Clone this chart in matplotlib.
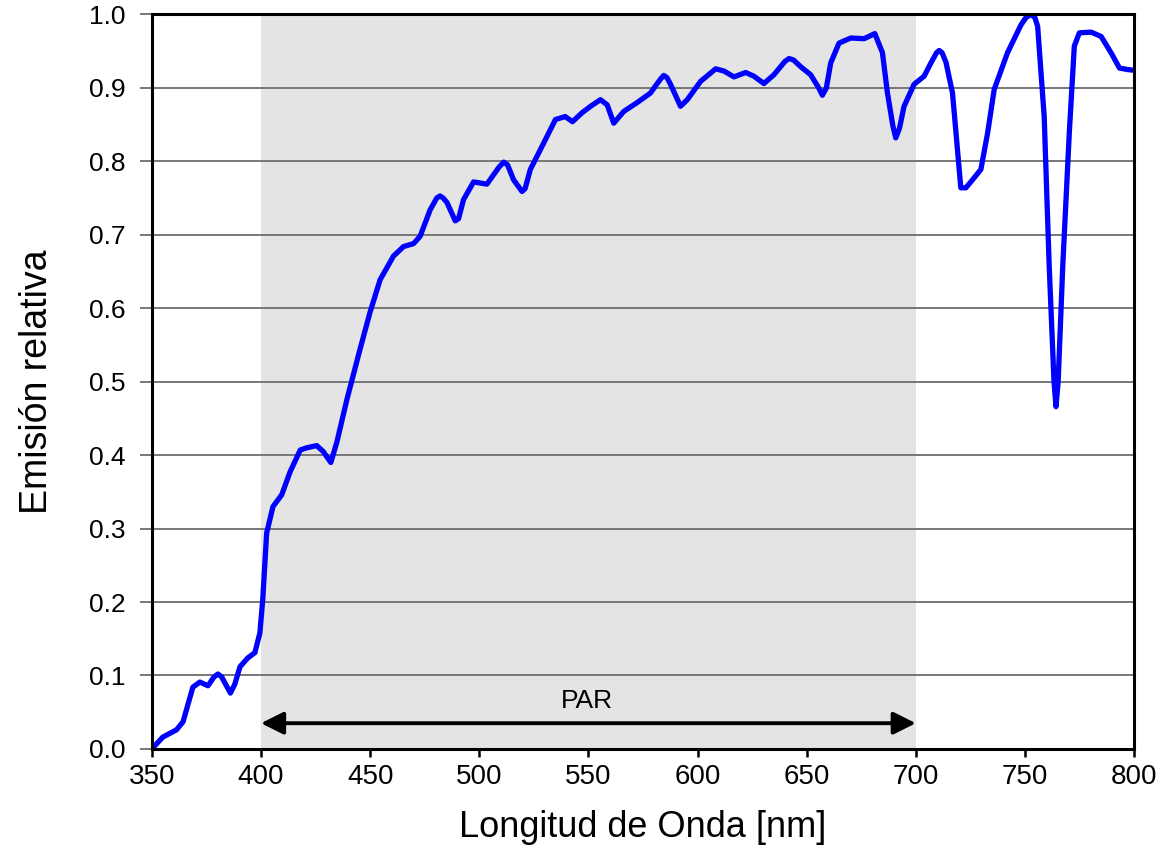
import matplotlib.pyplot as plt

plt.rcParams['font.family'] = ['Liberation Sans', 'DejaVu Sans']

# Spectrum
wavelength = [350, 355, 361.3, 364.3, 366.5, 368.8, 372, 375.7, 378.5, 380.3, 382, 386, 388,
              390.4, 394, 397.2, 399.5, 400.8, 402.6, 405.5, 409.5, 413.3, 418, 421, 425.5,
              428.5, 432, 434.7, 439.3, 445, 450, 454.6, 460.7, 465.3, 469.9, 472.9, 477.5,
              480.5, 482, 483.5, 485.2, 489, 490.5, 492.8, 497.4, 503.5, 509, 511.2, 513,
              515.7, 519.6, 521, 523.4, 528, 534.9, 539.4, 542.7, 547, 551, 555.5, 558.6,
              561.6, 566.2, 572.3, 578.4, 583, 584.5, 586, 587.6, 592.2, 595.3, 601.4,
              608.3, 612.1, 616.7, 622, 625.8, 630.4, 635, 640, 641.9, 644, 647.2, 651.8,
              655.5, 657.2, 659, 661, 664.8, 670.2, 676.3, 681.2, 684.7, 687, 689.5, 690.8,
              692.5, 694.6, 699.2, 703.8, 706.9, 709.5, 710.7, 712, 713.8, 716.8, 720.6,
              722.9, 726, 729.8, 732.9, 735.9, 742, 748.2, 750.5, 752.8, 754.5, 755.8,
              758.8, 761.1, 763.3, 764.2, 765.2, 767.3, 770.3, 772.6, 774.9, 780.3, 784.9,
              789.4, 793.3, 797.1, 800]
emission = [0.0, 0.016, 0.026, 0.037, 0.06, 0.084, 0.091, 0.086, 0.098, 0.102, 0.098, 0.076,
            0.088, 0.112, 0.124, 0.131, 0.158, 0.203, 0.294, 0.33, 0.346, 0.377, 0.407, 0.41,
            0.413, 0.405, 0.39, 0.417, 0.475, 0.54, 0.595, 0.639, 0.671, 0.684, 0.688, 0.698,
            0.734, 0.75, 0.753, 0.75, 0.744, 0.719, 0.722, 0.748, 0.772, 0.769, 0.792, 0.799,
            0.795, 0.775, 0.759, 0.763, 0.789, 0.816, 0.857, 0.861, 0.854, 0.866, 0.875,
            0.884, 0.877, 0.852, 0.868, 0.88, 0.893, 0.912, 0.917, 0.914, 0.905, 0.875,
            0.884, 0.909, 0.926, 0.923, 0.915, 0.921, 0.916, 0.906, 0.918, 0.936, 0.94,
            0.938, 0.929, 0.918, 0.9, 0.89, 0.9, 0.934, 0.961, 0.968, 0.967, 0.974, 0.948,
            0.893, 0.848, 0.832, 0.845, 0.875, 0.905, 0.916, 0.934, 0.948, 0.951, 0.948,
            0.935, 0.893, 0.764, 0.764, 0.775, 0.789, 0.839, 0.898, 0.948, 0.986, 0.996,
            1.0, 0.996, 0.984, 0.861, 0.657, 0.5, 0.466, 0.5, 0.657, 0.839, 0.957, 0.975,
            0.976, 0.97, 0.948, 0.927, 0.925, 0.924]

par_range = [400, 700]
x_ticks = [350, 400, 450, 500, 550, 600, 650, 700, 750, 800]
y_ticks = [0.0, 0.1, 0.2, 0.3, 0.4, 0.5, 0.6, 0.7, 0.8, 0.9, 1.0]

fig = plt.figure(figsize=(11.68, 8.52), dpi=100)
ax = fig.add_axes([0.130, 0.121, 0.841, 0.862])

ax.axvspan(par_range[0], par_range[1], color='#e4e4e4', lw=0, zorder=0)
for y in y_ticks[1:-1]:
    ax.axhline(y, color='#777777', lw=1.4, zorder=1)

ax.plot(wavelength, emission, color='#0000ff', lw=3.8, solid_joinstyle='round',
        solid_capstyle='round', zorder=3)

# PAR arrow
ax.annotate('', xy=(par_range[0], 0.035), xytext=(par_range[1], 0.035),
            arrowprops=dict(arrowstyle='<|-|>', color='black', lw=2.8,
                            mutation_scale=34, shrinkA=0, shrinkB=0), zorder=4)
ax.text(549.5, 0.065, 'PAR', ha='center', va='center', fontsize=19)

ax.set_xlim(350, 800)
ax.set_ylim(0, 1.0)
ax.set_xticks(x_ticks)
ax.set_yticks(y_ticks)
ax.set_yticklabels([f'{v:.1f}' for v in y_ticks])
ax.tick_params(axis='x', direction='out', length=6, width=1.8, labelsize=20, pad=5)
ax.tick_params(axis='y', direction='out', length=9, width=1.4, color='#777777',
               labelsize=19, pad=10)
for s in ax.spines.values():
    s.set_linewidth(2.2)
    s.set_zorder(5)

ax.set_xlabel('Longitud de Onda [nm]', fontsize=26, labelpad=14)
ax.set_ylabel('Emisión relativa', fontsize=27, labelpad=24)

fig.savefig('out.png', dpi=100)
